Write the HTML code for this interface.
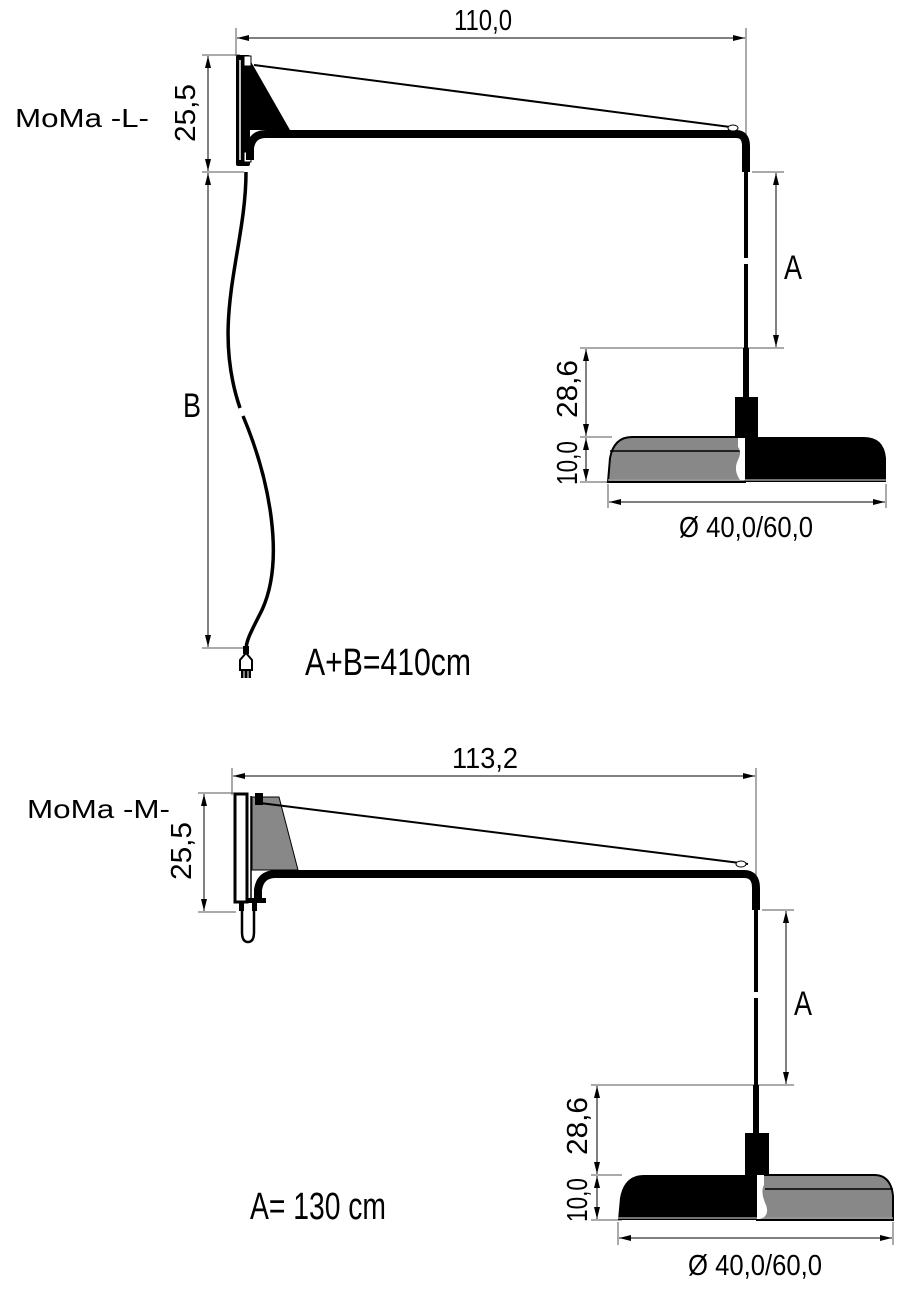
<!DOCTYPE html>
<html><head><meta charset="utf-8"><style>body{margin:0;background:#fff}svg{display:block}</style></head><body>
<svg width="900" height="1290" viewBox="0 0 900 1290" xmlns="http://www.w3.org/2000/svg" font-family="Liberation Sans, sans-serif">
<defs>
<marker id="a" viewBox="0 0 12 6" refX="12" refY="3" markerWidth="12" markerHeight="6" markerUnits="userSpaceOnUse" orient="auto-start-reverse"><path d="M0,0L12,3L0,6z" fill="#000"/></marker>
</defs>
<g stroke="#555" stroke-width="1" fill="none">
<line x1="236" y1="28" x2="236" y2="56"/><line x1="746" y1="28" x2="746" y2="140"/>
<line x1="237" y1="38" x2="745" y2="38" stroke="#000" marker-start="url(#a)" marker-end="url(#a)"/>
<line x1="202" y1="55" x2="240" y2="55"/><line x1="202" y1="172" x2="244" y2="172"/><line x1="202" y1="648" x2="244" y2="648"/>
<line x1="208" y1="56" x2="208" y2="171" stroke="#000" marker-start="url(#a)" marker-end="url(#a)"/>
<line x1="208" y1="173" x2="208" y2="647" stroke="#000" marker-start="url(#a)" marker-end="url(#a)"/>
<line x1="752" y1="172" x2="784" y2="172"/><line x1="580" y1="348" x2="784" y2="348"/>
<line x1="776" y1="173" x2="776" y2="347" stroke="#000" marker-start="url(#a)" marker-end="url(#a)"/>
<line x1="580" y1="437" x2="612" y2="437"/><line x1="580" y1="482" x2="612" y2="482"/>
<line x1="586" y1="349" x2="586" y2="436" stroke="#000" marker-start="url(#a)" marker-end="url(#a)"/>
<line x1="586" y1="438" x2="586" y2="481" stroke="#000" marker-start="url(#a)" marker-end="url(#a)"/>
<line x1="608" y1="484" x2="608" y2="508"/><line x1="886" y1="484" x2="886" y2="508"/>
<line x1="609" y1="502" x2="885" y2="502" stroke="#000" marker-start="url(#a)" marker-end="url(#a)"/>
<line x1="232" y1="768" x2="232" y2="795"/><line x1="756" y1="768" x2="756" y2="880"/>
<line x1="233" y1="776" x2="755" y2="776" stroke="#000" marker-start="url(#a)" marker-end="url(#a)"/>
<line x1="198" y1="793" x2="236" y2="793"/><line x1="198" y1="912" x2="236" y2="912"/>
<line x1="204" y1="794" x2="204" y2="911" stroke="#000" marker-start="url(#a)" marker-end="url(#a)"/>
<line x1="762" y1="910" x2="794" y2="910"/><line x1="591" y1="1085" x2="794" y2="1085"/>
<line x1="786" y1="911" x2="786" y2="1084" stroke="#000" marker-start="url(#a)" marker-end="url(#a)"/>
<line x1="591" y1="1175" x2="622" y2="1175"/><line x1="591" y1="1220" x2="622" y2="1220"/>
<line x1="597" y1="1086" x2="597" y2="1174" stroke="#000" marker-start="url(#a)" marker-end="url(#a)"/>
<line x1="597" y1="1176" x2="597" y2="1219" stroke="#000" marker-start="url(#a)" marker-end="url(#a)"/>
<line x1="618" y1="1222" x2="618" y2="1245"/><line x1="893" y1="1222" x2="893" y2="1245"/>
<line x1="619" y1="1238" x2="892" y2="1238" stroke="#000" marker-start="url(#a)" marker-end="url(#a)"/>
</g>

<path d="M250,60 L290,130 L250,130 Z" fill="#000"/>
<rect x="236" y="55" width="14" height="111" rx="2" fill="#000"/>
<line x1="240" y1="60" x2="240" y2="160" stroke="#fff" stroke-width="1.5"/>
<rect x="244" y="56" width="7" height="10" fill="#fff" stroke="#000"/>
<rect x="244" y="152" width="7" height="10" fill="#fff" stroke="#000"/>
<path d="M250,160 L250,148 Q252,134 266,134 L736,134 Q746,134 746,146 L746,172" fill="none" stroke="#000" stroke-width="8"/>
<line x1="254" y1="65" x2="738" y2="128" stroke="#000" stroke-width="2"/>
<ellipse cx="733" cy="128" rx="5" ry="3" fill="#fff" stroke="#000"/>
<line x1="746" y1="172" x2="746" y2="258" stroke="#000" stroke-width="4"/>
<line x1="746" y1="264" x2="746" y2="398" stroke="#000" stroke-width="4"/>
<line x1="746" y1="348" x2="746" y2="398" stroke="#000" stroke-width="6"/>
<rect x="735" y="397" width="23" height="40" fill="#000"/>
<path d="M608,482 L610,458 Q614,437 632,437 L745,437 L745,482 Z" fill="#888" stroke="#000" stroke-width="2"/>
<path d="M745,437 L864,437 Q884,437 886,458 L886,482 L745,482 Z" fill="#000"/>
<line x1="610" y1="451" x2="745" y2="451" stroke="#000" stroke-width="1.5"/>
<line x1="608" y1="480" x2="886" y2="480" stroke="#999" stroke-width="1.5"/>
<path d="M738,438 L745,438 L745,480 L740,480 Q733,470 738,460 Q742,452 738,447 Z" fill="#fff"/>
<path d="M246,172 C246,250 210,320 240,408 M243,416 C270,480 285,560 262,610 C252,630 246,640 246,650" fill="none" stroke="#000" stroke-width="3.5"/>
<rect x="243" y="646" width="6" height="8" fill="#000"/>
<path d="M240,670 L240,660 L246,653 L252,660 L252,670 Z" fill="#fff" stroke="#000" stroke-width="2"/>
<rect x="241" y="670" width="10" height="8" fill="#000"/>
<line x1="244" y1="671" x2="244" y2="680" stroke="#fff"/><line x1="248" y1="671" x2="248" y2="680" stroke="#fff"/>

<path d="M252,797 L279,797 L298,870 L252,870 Z" fill="#888" stroke="#000" stroke-width="1"/>
<rect x="235" y="794" width="12" height="108" fill="#fff" stroke="#000" stroke-width="3"/>
<line x1="251" y1="796" x2="251" y2="902" stroke="#000" stroke-width="1.5"/>
<rect x="255" y="793" width="8" height="12" fill="#000"/>
<rect x="246" y="898" width="20" height="5" fill="#000"/>
<path d="M258,900 L258,890 Q260,874 276,874 L744,874 Q756,874 756,888 L756,910" fill="none" stroke="#000" stroke-width="8"/>
<line x1="260" y1="803" x2="748" y2="864" stroke="#000" stroke-width="2"/>
<ellipse cx="741" cy="864" rx="5" ry="3" fill="#fff" stroke="#000"/>
<path d="M242,903 L242,932 Q242,942 248,942 Q254,942 254,932 L254,903" fill="none" stroke="#000" stroke-width="2.5"/>
<rect x="239" y="903" width="5" height="8" fill="#000"/><rect x="252" y="903" width="5" height="8" fill="#000"/>
<line x1="756" y1="910" x2="756" y2="992" stroke="#000" stroke-width="4"/>
<line x1="756" y1="998" x2="756" y2="1136" stroke="#000" stroke-width="4"/>
<line x1="756" y1="1085" x2="756" y2="1136" stroke="#000" stroke-width="6"/>
<rect x="745" y="1133" width="24" height="42" fill="#000"/>
<path d="M618,1220 L620,1198 Q624,1175 644,1175 L757,1175 L757,1220 Z" fill="#000"/>
<path d="M757,1175 L874,1175 Q891,1175 893,1196 L893,1220 L757,1220 Z" fill="#888" stroke="#000" stroke-width="2"/>
<line x1="765" y1="1189" x2="893" y2="1189" stroke="#000" stroke-width="1.5"/>
<line x1="618" y1="1218" x2="893" y2="1218" stroke="#999" stroke-width="1.5"/>
<path d="M757,1175 L764,1175 L764,1185 Q760,1192 766,1205 Q770,1216 760,1219 L757,1219 Z" fill="#fff"/>

<g fill="#000" font-size="29">
<text x="454" y="30" textLength="58" lengthAdjust="spacingAndGlyphs">110,0</text>
<text x="452" y="768" textLength="66" lengthAdjust="spacingAndGlyphs">113,2</text>
<text transform="translate(195,142) rotate(-90)" textLength="58" lengthAdjust="spacingAndGlyphs">25,5</text>
<text transform="translate(191,880) rotate(-90)" textLength="58" lengthAdjust="spacingAndGlyphs">25,5</text>
<text transform="translate(577,418) rotate(-90)" textLength="58" lengthAdjust="spacingAndGlyphs">28,6</text>
<text transform="translate(577,485) rotate(-90)" textLength="44" lengthAdjust="spacingAndGlyphs">10,0</text>
<text transform="translate(587,1155) rotate(-90)" textLength="58" lengthAdjust="spacingAndGlyphs">28,6</text>
<text transform="translate(587,1222) rotate(-90)" textLength="44" lengthAdjust="spacingAndGlyphs">10,0</text>
<text x="679" y="537" textLength="134" lengthAdjust="spacingAndGlyphs">Ø 40,0/60,0</text>
<text x="688" y="1275" textLength="134" lengthAdjust="spacingAndGlyphs">Ø 40,0/60,0</text>
<text x="784" y="279" font-size="34" textLength="18" lengthAdjust="spacingAndGlyphs">A</text>
<text x="794" y="1015" font-size="34" textLength="18" lengthAdjust="spacingAndGlyphs">A</text>
<text x="183" y="417" font-size="34" textLength="18" lengthAdjust="spacingAndGlyphs">B</text>
<text x="305" y="675" font-size="38" textLength="166" lengthAdjust="spacingAndGlyphs">A+B=410cm</text>
<text x="250" y="1219" font-size="38" textLength="136" lengthAdjust="spacingAndGlyphs">A= 130 cm</text>
<text x="15" y="127" font-size="26" textLength="134" lengthAdjust="spacingAndGlyphs">MoMa -L-</text>
<text x="27" y="818" font-size="26" textLength="143" lengthAdjust="spacingAndGlyphs">MoMa -M-</text>
</g>
</svg>
</body></html>
